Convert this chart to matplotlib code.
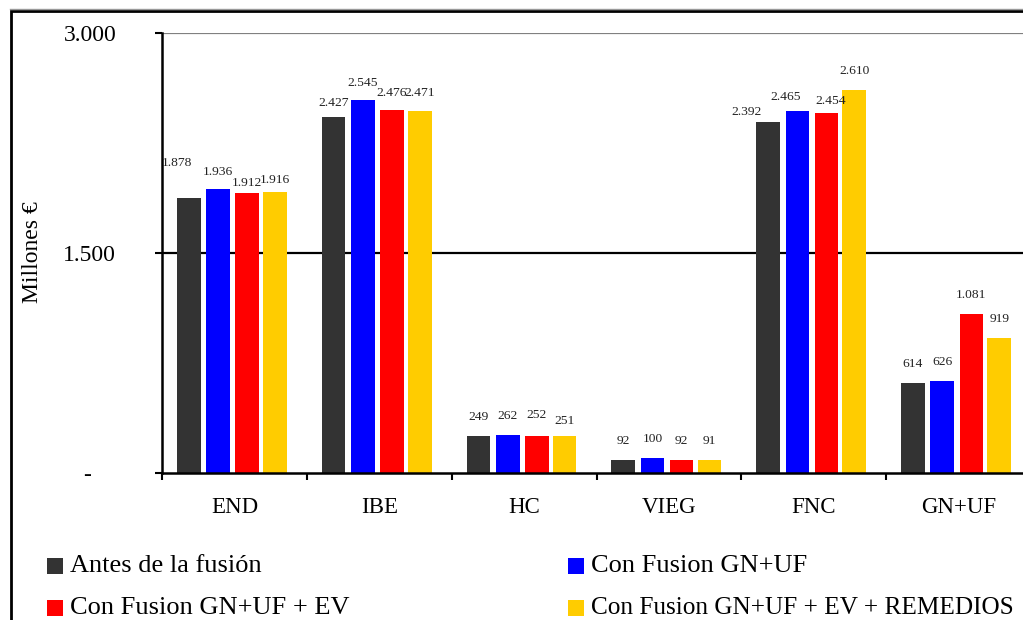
import matplotlib
matplotlib.use('Agg')
import matplotlib.pyplot as plt
import numpy as np
from matplotlib.patches import Rectangle
from matplotlib.lines import Line2D
from matplotlib.transforms import ScaledTranslation

plt.rcParams['font.family'] = ['Liberation Serif', 'DejaVu Serif']

categories = ['END', 'IBE', 'HC', 'VIEG', 'FNC', 'GN+UF']
antes = [1878, 2427, 249, 92, 2392, 614]
con_gn_uf = [1936, 2545, 262, 100, 2465, 626]
con_gn_uf_ev = [1912, 2476, 252, 92, 2454, 1081]
con_remedios = [1916, 2471, 251, 91, 2610, 919]
series_names = ['Antes de la fusión', 'Con Fusion GN+UF',
                'Con Fusion GN+UF + EV', 'Con Fusion GN+UF + EV + REMEDIOS']
colors = ['#333333', '#0000FF', '#FF0000', '#FFCC00']
yticks = [0, 1500, 3000]
ytick_labels = ['-', '1.500', '3.000']

# label nudges in pixels (dx, dy) keyed by (series index, category index)
label_nudge = {
    (0, 0): (-12, 16), (1, 0): (0, -2), (2, 0): (0, -9), (3, 0): (0, -7),
    (0, 1): (0, -5), (1, 1): (0, -2), (2, 1): (0, -2), (3, 1): (0, -1),
    (2, 2): (0, 2), (3, 2): (0, -4),
    (0, 4): (-22, -9), (1, 4): (-12, -5), (2, 4): (4, -7),
}

W, H = 1023, 620
fig = plt.figure(figsize=(W / 100, H / 100), dpi=100)
ax = fig.add_axes([162 / W, (H - 473) / H, (1031 - 162) / W, (473 - 33) / H])

x = np.arange(len(categories)) + 0.5
offsets = [-0.315, -0.113, 0.088, 0.28]
width = 0.163
series = [antes, con_gn_uf, con_gn_uf_ev, con_remedios]


def fmt(v):
    return f"{v:,}".replace(',', '.')


px = 72 / 100  # points per pixel
for si, (vals, c, off) in enumerate(zip(series, colors, offsets)):
    bars = ax.bar(x + off, vals, width, color=c, zorder=3)
    for ci, (b, v) in enumerate(zip(bars, vals)):
        dx, dy = label_nudge.get((si, ci), (0, 0))
        ax.annotate(fmt(v), (b.get_x() + b.get_width() / 2, v),
                    xytext=(dx * px, (19 + dy) * px),
                    textcoords='offset points', ha='center', va='center',
                    fontsize=9.7, color='#222222', zorder=4)

ax.set_xlim(0, len(categories))
ax.set_ylim(0, 3000)

# x axis: ticks at category boundaries, labels at centers
ax.set_xticks(np.arange(len(categories) + 1))
ax.set_xticklabels([])
ax.set_xticks(x, minor=True)
ax.set_xticklabels(categories, minor=True, fontsize=16.5)
ax.tick_params(axis='x', which='major', direction='out', length=5, width=1.5)
ax.tick_params(axis='x', which='minor', length=0, pad=17)

ax.set_yticks(yticks)
ax.set_yticklabels(ytick_labels, fontsize=17)
ax.tick_params(axis='y', direction='out', length=5, width=1.5, pad=28)
for lbl in ax.get_yticklabels():
    if lbl.get_text() == '-':
        lbl.set_transform(lbl.get_transform() + ScaledTranslation(-0.25, 0, fig.dpi_scale_trans))

ax.yaxis.grid(True, color='black', linewidth=1.6, zorder=1)
ax.set_axisbelow(True)
gl = ax.get_ygridlines()
gl[2].set_color('#808080')
gl[0].set_visible(False)

for s in ['top', 'right']:
    ax.spines[s].set_visible(False)
for s in ['left', 'bottom']:
    ax.spines[s].set_linewidth(1.8)
    ax.spines[s].set_color('black')
    ax.spines[s].set_zorder(5)

fig.text(33 / W, 1 - 252 / H, 'Millones €', rotation=90, ha='center', va='center', fontsize=17)

# outer frame
fig.add_artist(Line2D([10 / W, 1.05], [1 - 8.5 / H, 1 - 8.5 / H], transform=fig.transFigure,
                      color='#999999', lw=1))
fig.add_artist(Rectangle((10.5 / W, -0.1), 1.2, 1 - 10.5 / H + 0.1, transform=fig.transFigure,
                         fill=False, ec='black', lw=2))

# legend
lx = [47, 568]
ly = [566, 608]
lsize = [19, 19, 19, 18.2]
for i, (name, c) in enumerate(zip(series_names, colors)):
    col, row = i % 2, i // 2
    fig.add_artist(Rectangle((lx[col] / W, 1 - (ly[row] + 8) / H), 16 / W, 16 / H,
                             transform=fig.transFigure, fc=c, ec='none'))
    fig.text((lx[col] + 23) / W, 1 - ly[row] / H, name, ha='left', va='center',
             fontsize=lsize[i])

fig.savefig('out.png', dpi=100)
